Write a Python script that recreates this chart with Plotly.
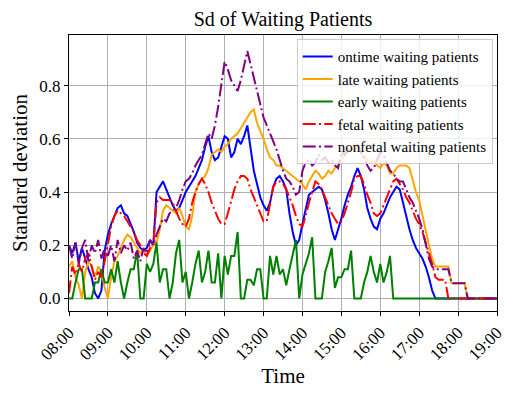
"""Standard deviation of waiting patients over the day."""

import pandas as pd
import plotly.graph_objects as go

# 5-minute samples from 08:00 to 19:00 (one row per hour, 12 values each)
times = pd.date_range("2024-01-01 08:00", "2024-01-01 19:00", freq="5min")

ontime = [
    0.20, 0.17, 0.21, 0.14, 0.19, 0.15, 0.11, 0.08, 0.02, 0.00, 0.03, 0.18,
    0.24, 0.28, 0.31, 0.34, 0.35, 0.32, 0.31, 0.28, 0.25, 0.21, 0.19, 0.18,
    0.19, 0.22, 0.20, 0.40, 0.42, 0.44, 0.41, 0.38, 0.35, 0.33, 0.34, 0.37,
    0.40, 0.42, 0.44, 0.46, 0.49, 0.52, 0.57, 0.61, 0.55, 0.52, 0.53, 0.57,
    0.61, 0.60, 0.53, 0.55, 0.60, 0.58, 0.61, 0.65, 0.57, 0.48, 0.43, 0.38,
    0.35, 0.33, 0.36, 0.42, 0.45, 0.46, 0.44, 0.41, 0.32, 0.25, 0.20, 0.22,
    0.28, 0.34, 0.39, 0.40, 0.41, 0.42, 0.41, 0.37, 0.32, 0.26, 0.22, 0.26,
    0.30, 0.35, 0.39, 0.42, 0.46, 0.49, 0.46, 0.41, 0.34, 0.30, 0.27, 0.26,
    0.30, 0.32, 0.35, 0.38, 0.40, 0.42, 0.41, 0.36, 0.30, 0.26, 0.22, 0.19,
    0.17, 0.15, 0.12, 0.08, 0.03, 0.00, 0.00, 0.00, 0.00, 0.00, 0.00, 0.00,
    0.00, 0.00, 0.00, 0.00, 0.00, 0.00, 0.00, 0.00, 0.00, 0.00, 0.00, 0.00,
    0.00,
]

late = [
    0.12, 0.14, 0.08, 0.05, 0.00, 0.10, 0.14, 0.12, 0.08, 0.12, 0.10, 0.04,
    0.00, 0.08, 0.14, 0.16, 0.19, 0.22, 0.24, 0.23, 0.21, 0.19, 0.17, 0.18,
    0.16, 0.18, 0.20, 0.21, 0.26, 0.33, 0.35, 0.34, 0.33, 0.32, 0.34, 0.31,
    0.27, 0.26, 0.31, 0.40, 0.43, 0.45, 0.46, 0.49, 0.54, 0.55, 0.56, 0.55,
    0.57, 0.58, 0.60, 0.61, 0.62, 0.64, 0.66, 0.68, 0.70, 0.71, 0.66, 0.63,
    0.60, 0.56, 0.53, 0.52, 0.50, 0.50, 0.49, 0.48, 0.47, 0.46, 0.45, 0.44,
    0.43, 0.41, 0.44, 0.46, 0.48, 0.47, 0.45, 0.46, 0.48, 0.47, 0.49, 0.50,
    0.52, 0.54, 0.55, 0.56, 0.58, 0.57, 0.55, 0.53, 0.52, 0.51, 0.52, 0.50,
    0.49, 0.51, 0.50, 0.47, 0.47, 0.49, 0.50, 0.50, 0.50, 0.49, 0.44, 0.40,
    0.37, 0.31, 0.25, 0.20, 0.15, 0.12, 0.12, 0.12, 0.12, 0.12, 0.057, 0.057,
    0.057, 0.057, 0.057, 0.00, 0.00, 0.00, 0.00, 0.00, 0.00, 0.00, 0.00, 0.00,
    0.00,
]

early = [
    0.00, 0.00, 0.06, 0.11, 0.11, 0.00, 0.00, 0.00, 0.06, 0.06, 0.11, 0.06,
    0.06, 0.11, 0.06, 0.14, 0.06, 0.00, 0.06, 0.11, 0.11, 0.18, 0.00, 0.00,
    0.13, 0.10, 0.13, 0.21, 0.06, 0.11, 0.11, 0.00, 0.06, 0.17, 0.22, 0.06,
    0.10, 0.00, 0.06, 0.13, 0.18, 0.06, 0.10, 0.18, 0.06, 0.06, 0.17, 0.00,
    0.16, 0.09, 0.16, 0.16, 0.25, 0.00, 0.00, 0.07, 0.07, 0.05, 0.11, 0.11,
    0.00, 0.00, 0.16, 0.09, 0.16, 0.09, 0.11, 0.05, 0.11, 0.17, 0.22, 0.00,
    0.09, 0.13, 0.17, 0.23, 0.00, 0.00, 0.00, 0.10, 0.14, 0.19, 0.04, 0.08,
    0.08, 0.11, 0.11, 0.18, 0.00, 0.00, 0.00, 0.06, 0.10, 0.16, 0.10, 0.06,
    0.13, 0.06, 0.10, 0.16, 0.00, 0.00, 0.00, 0.00, 0.00, 0.00, 0.00, 0.00,
    0.00, 0.00, 0.00, 0.00, 0.00, 0.00, 0.00, 0.00, 0.00, 0.00, 0.00, 0.00,
    0.00, 0.00, 0.00, 0.00, 0.00, 0.00, 0.00, 0.00, 0.00, 0.00, 0.00, 0.00,
    0.00,
]

fetal = [
    0.02, 0.12, 0.09, 0.13, 0.10, 0.15, 0.17, 0.12, 0.07, 0.10, 0.08, 0.14,
    0.20, 0.27, 0.31, 0.33, 0.32, 0.31, 0.29, 0.27, 0.25, 0.22, 0.20, 0.17,
    0.16, 0.19, 0.20, 0.36, 0.38, 0.37, 0.37, 0.37, 0.36, 0.33, 0.30, 0.28,
    0.27, 0.30, 0.36, 0.40, 0.43, 0.45, 0.43, 0.40, 0.36, 0.33, 0.30, 0.28,
    0.28, 0.32, 0.37, 0.41, 0.44, 0.46, 0.46, 0.45, 0.41, 0.38, 0.35, 0.32,
    0.29, 0.29, 0.36, 0.42, 0.44, 0.44, 0.43, 0.41, 0.38, 0.35, 0.31, 0.28,
    0.27, 0.31, 0.36, 0.40, 0.44, 0.43, 0.41, 0.38, 0.35, 0.32, 0.30, 0.28,
    0.29, 0.32, 0.36, 0.40, 0.45, 0.46, 0.46, 0.43, 0.39, 0.36, 0.32, 0.31,
    0.32, 0.35, 0.38, 0.41, 0.44, 0.45, 0.43, 0.41, 0.38, 0.36, 0.33, 0.30,
    0.28, 0.25, 0.21, 0.17, 0.13, 0.08, 0.07, 0.07, 0.07, 0.00, 0.00, 0.00,
    0.00, 0.00, 0.00, 0.00, 0.00, 0.00, 0.00, 0.00, 0.00, 0.00, 0.00, 0.00,
    0.00,
]

nonfetal = [
    0.20, 0.15, 0.21, 0.13, 0.19, 0.22, 0.14, 0.20, 0.17, 0.22, 0.15, 0.19,
    0.16, 0.20, 0.14, 0.22, 0.17, 0.20, 0.18, 0.21, 0.15, 0.18, 0.14, 0.19,
    0.17, 0.22, 0.20, 0.24, 0.27, 0.30, 0.29, 0.32, 0.33, 0.34, 0.37, 0.41,
    0.44, 0.45, 0.47, 0.50, 0.52, 0.54, 0.58, 0.62, 0.60, 0.65, 0.72, 0.80,
    0.89, 0.86, 0.82, 0.80, 0.78, 0.82, 0.88, 0.93, 0.88, 0.83, 0.78, 0.72,
    0.68, 0.65, 0.62, 0.59, 0.56, 0.52, 0.48, 0.45, 0.44, 0.42, 0.39, 0.40,
    0.48, 0.51, 0.52, 0.50, 0.51, 0.54, 0.52, 0.53, 0.51, 0.52, 0.50, 0.49,
    0.55, 0.54, 0.56, 0.55, 0.56, 0.58, 0.55, 0.53, 0.50, 0.48, 0.49, 0.52,
    0.55, 0.54, 0.51, 0.48, 0.47, 0.45, 0.44, 0.44, 0.41, 0.38, 0.36, 0.33,
    0.30, 0.26, 0.21, 0.15, 0.12, 0.11, 0.11, 0.11, 0.11, 0.11, 0.057, 0.057,
    0.057, 0.057, 0.057, 0.00, 0.00, 0.00, 0.00, 0.00, 0.00, 0.00, 0.00, 0.00,
    0.00,
]

tick_times = pd.date_range("2024-01-01 08:00", "2024-01-01 19:00", freq="1h")

FONT = "Liberation Serif, DejaVu Serif, serif"
DASHDOT = "13px,3.3px,2px,3.3px"

series = [
    ("ontime waiting patients", ontime, "blue", "solid"),
    ("late waiting patients", late, "orange", "solid"),
    ("early waiting patients", early, "green", "solid"),
    ("fetal waiting patients", fetal, "red", DASHDOT),
    ("nonfetal waiting patients", nonfetal, "purple", DASHDOT),
]

fig = go.Figure()
for name, values, color, dash in series:
    fig.add_trace(
        go.Scatter(
            x=times,
            y=values,
            mode="lines",
            name=name,
            line=dict(color=color, width=2, dash=dash),
        )
    )

axis_common = dict(
    showline=True,
    linecolor="black",
    linewidth=1,
    mirror=True,
    ticks="outside",
    ticklen=4,
    tickcolor="black",
    showgrid=True,
    gridcolor="#b0b0b0",
    gridwidth=1,
    zeroline=False,
    tickfont=dict(family=FONT, size=17, color="black"),
)

# the page body adds an 8px offset, so the figure is 8px smaller than the window
fig.update_layout(
    width=523,
    height=391,
    margin=dict(l=61, r=34, t=27, b=88),
    paper_bgcolor="white",
    plot_bgcolor="white",
    font=dict(family=FONT, color="black"),
    title=dict(
        text="Sd of Waiting Patients",
        x=0.5,
        xref="paper",
        y=1 - 11 / 391,
        yanchor="middle",
        font=dict(family=FONT, size=20, color="black"),
    ),
    xaxis=dict(
        **axis_common,
        type="date",
        range=[tick_times[0], tick_times[-1]],
        tickvals=tick_times,
        tickformat="%H:%M",
        tickangle=-45,
        title=dict(text="Time", font=dict(family=FONT, size=21), standoff=4),
    ),
    yaxis=dict(
        **axis_common,
        range=[-0.047, 0.99],
        tickvals=[0.0, 0.2, 0.4, 0.6, 0.8],
        tickformat=".1f",
        title=dict(text="Standard deviation", font=dict(family=FONT, size=21), standoff=6),
    ),
    legend=dict(
        x=0.99,
        y=0.985,
        xanchor="right",
        yanchor="top",
        bgcolor="rgba(255,255,255,0.8)",
        bordercolor="#cccccc",
        borderwidth=1,
        font=dict(family=FONT, size=15, color="black"),
        tracegroupgap=0,
    ),
    showlegend=True,
)

fig.write_html("out.html")
